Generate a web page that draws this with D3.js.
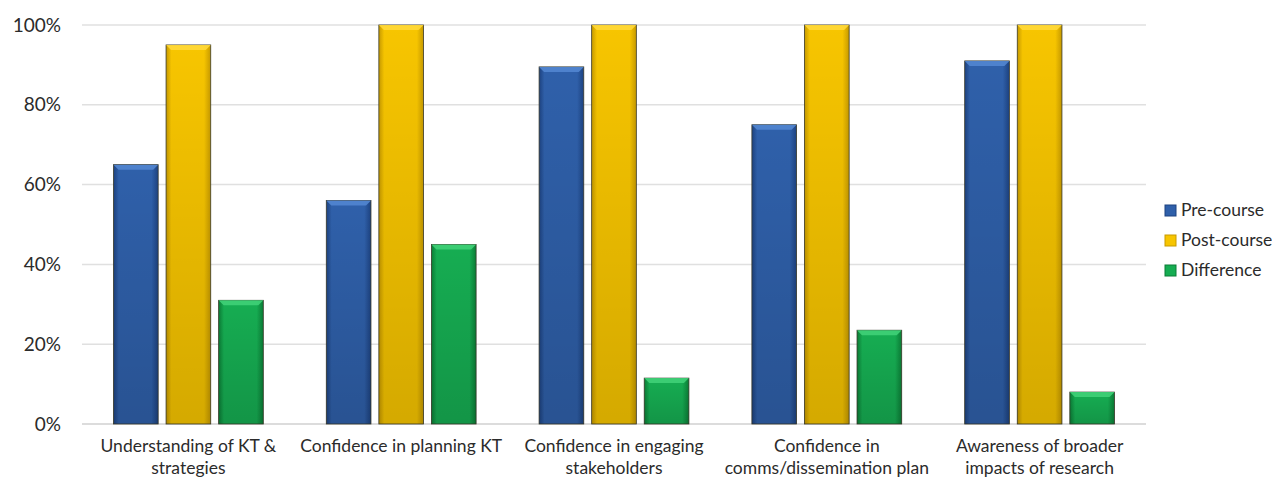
<!DOCTYPE html>
<html>
<head>
<meta charset="utf-8">
<script src="https://cdn.jsdelivr.net/npm/d3@7"></script>
<style>
  body { margin: 0; background: #fff; }
  svg { display: block; font-family: Lato, "Open Sans", sans-serif; }
</style>
</head>
<body>
<div id="chart"></div>
<script>
// categories (split into the lines shown under the axis)
const categories = [
  ["Understanding of KT &", "strategies"],
  ["Confidence in planning KT"],
  ["Confidence in engaging", "stakeholders"],
  ["Confidence in", "comms/dissemination plan"],
  ["Awareness of broader", "impacts of research"]
];
const seriesNames = ["Pre-course", "Post-course", "Difference"];
const preCourse = [65, 56, 89.5, 75, 91];
const postCourse = [95, 100, 100, 100, 100];
const difference = [31, 45, 11.5, 23.5, 8];
const yTicks = [0, 20, 40, 60, 80, 100];

const width = 1272, height = 479;
const plotLeft = 82, plotRight = 1146, plotTop = 25, plotBottom = 424;

const colors = {
  "Pre-course": ["#5286d0", "#2f60aa", "#1d4280"],
  "Post-course": ["#ffd83a", "#f7c500", "#c79a00"],
  "Difference": ["#3fd077", "#16ad52", "#0b7d36"]
};

const svg = d3.select("#chart").append("svg")
  .attr("width", width)
  .attr("height", height);

const defs = svg.append("defs");
seriesNames.forEach(function (s, i) {
  const g = defs.append("linearGradient")
    .attr("id", "grad" + i)
    .attr("x1", "0").attr("x2", "1").attr("y1", "0").attr("y2", "0");
  g.append("stop").attr("offset", "0%").attr("stop-color", colors[s][2]);
  g.append("stop").attr("offset", "12%").attr("stop-color", colors[s][1]);
  g.append("stop").attr("offset", "85%").attr("stop-color", colors[s][1]);
  g.append("stop").attr("offset", "100%").attr("stop-color", colors[s][2]);
});
const shade = defs.append("linearGradient")
  .attr("id", "shade")
  .attr("x1", "0").attr("x2", "0").attr("y1", "0").attr("y2", "1");
shade.append("stop").attr("offset", "0%").attr("stop-color", "#000").attr("stop-opacity", 0);
shade.append("stop").attr("offset", "100%").attr("stop-color", "#000").attr("stop-opacity", 0.14);

const rows = categories.map(function (c, i) {
  return { cat: i, values: [preCourse[i], postCourse[i], difference[i]] };
});

const x0 = d3.scaleBand()
  .domain(d3.range(categories.length))
  .range([plotLeft, plotRight])
  .paddingInner(0.296)
  .paddingOuter(0.148);

const x1 = d3.scaleBand()
  .domain(d3.range(seriesNames.length))
  .range([0, x0.bandwidth()])
  .paddingInner(0.15)
  .paddingOuter(0);

const y = d3.scaleLinear()
  .domain([0, 100])
  .range([plotBottom, plotTop]);

// gridlines
svg.append("g")
  .selectAll("line")
  .data(yTicks)
  .enter()
  .append("line")
  .attr("x1", plotLeft)
  .attr("x2", plotRight)
  .attr("y1", function (d) { return y(d); })
  .attr("y2", function (d) { return y(d); })
  .attr("stroke", function (d) { return d === 0 ? "#d0d0d0" : "#e0e0e0"; })
  .attr("stroke-width", 1.5);

// y axis labels
const yAxis = d3.axisLeft(y)
  .tickValues(yTicks)
  .tickSize(0)
  .tickPadding(21)
  .tickFormat(function (d) { return d + "%"; });

svg.append("g")
  .attr("transform", "translate(" + plotLeft + ",0)")
  .call(yAxis)
  .call(function (g) { g.select(".domain").remove(); })
  .selectAll("text")
  .style("font-size", "19px")
  .style("font-family", "Lato, 'Open Sans', sans-serif")
  .attr("fill", "#2b2b2b");

// bars
const groups = svg.append("g")
  .selectAll("g")
  .data(rows)
  .enter()
  .append("g")
  .attr("transform", function (d) { return "translate(" + x0(d.cat) + ",0)"; });

const bars = groups.selectAll("g")
  .data(function (d) { return d.values.map(function (v, i) { return { s: i, v: v }; }); })
  .enter()
  .append("g");

bars.append("rect")
  .attr("x", function (d) { return x1(d.s); })
  .attr("y", function (d) { return y(d.v); })
  .attr("width", x1.bandwidth())
  .attr("height", function (d) { return y(0) - y(d.v); })
  .attr("fill", function (d) { return "url(#grad" + d.s + ")"; })
  .attr("stroke", "#3a3a2a")
  .attr("stroke-width", 0.8);

bars.append("rect")
  .attr("x", function (d) { return x1(d.s); })
  .attr("y", function (d) { return y(d.v); })
  .attr("width", x1.bandwidth())
  .attr("height", function (d) { return y(0) - y(d.v); })
  .attr("fill", "url(#shade)");

// bevel at top of each bar
bars.append("path")
  .attr("d", function (d) {
    const bx = x1(d.s), by = y(d.v), bw = x1.bandwidth(), b = 5;
    return "M" + bx + "," + by + "L" + (bx + bw) + "," + by +
      "L" + (bx + bw - b) + "," + (by + b) + "L" + (bx + b) + "," + (by + b) + "Z";
  })
  .attr("fill", function (d) { return colors[seriesNames[d.s]][0]; })
  .attr("opacity", 0.9);

// x axis labels
const xLabels = svg.append("g")
  .selectAll("text")
  .data(categories)
  .enter()
  .append("text")
  .attr("text-anchor", "middle")
  .attr("x", function (d, i) { return x0(i) + x0.bandwidth() / 2; })
  .attr("y", plotBottom + 28)
  .style("font-size", "17.5px")
  .attr("fill", "#2b2b2b");

xLabels.selectAll("tspan")
  .data(function (d) { return d; })
  .enter()
  .append("tspan")
  .attr("x", function () { return d3.select(this.parentNode).attr("x"); })
  .attr("dy", function (d, i) { return i === 0 ? 0 : 22; })
  .text(function (d) { return d; });

// legend
const legend = svg.append("g")
  .attr("transform", "translate(1165,205)");

const items = legend.selectAll("g")
  .data(seriesNames)
  .enter()
  .append("g")
  .attr("transform", function (d, i) { return "translate(0," + i * 30 + ")"; });

items.append("rect")
  .attr("width", 11)
  .attr("height", 11)
  .attr("fill", function (d) { return colors[d][1]; })
  .attr("stroke", function (d) { return colors[d][2]; });

items.append("text")
  .attr("x", 16)
  .attr("y", 11)
  .style("font-size", "17.5px")
  .attr("fill", "#2b2b2b")
  .text(function (d) { return d; });
</script>
</body>
</html>
